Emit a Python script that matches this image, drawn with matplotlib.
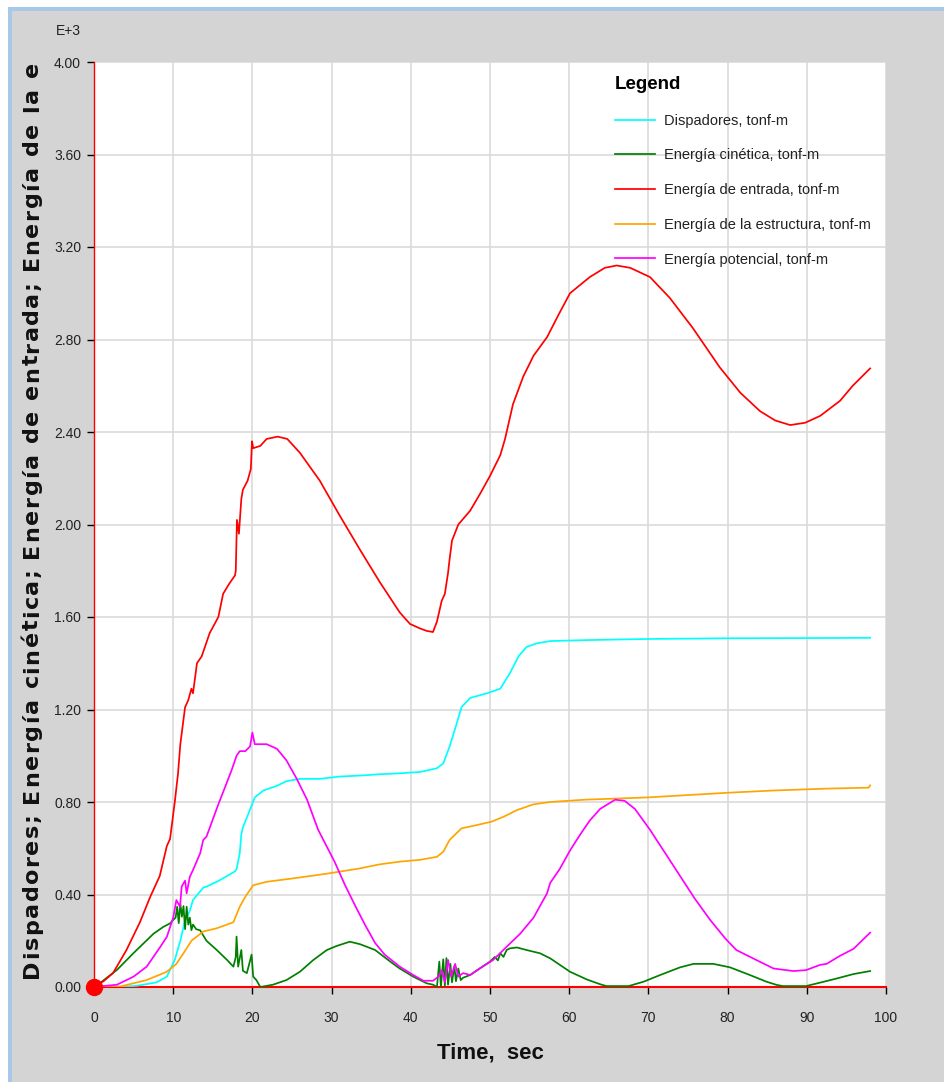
import matplotlib
matplotlib.use("Agg")
import matplotlib.pyplot as plt
from matplotlib.patches import Rectangle
from matplotlib.transforms import IdentityTransform
from matplotlib.font_manager import FontProperties

# ---------------------------------------------------------------- data (E+3 tonf-m)
x_ticks = [0, 10, 20, 30, 40, 50, 60, 70, 80, 90, 100]
y_ticks = [0.00, 0.40, 0.80, 1.20, 1.60, 2.00, 2.40, 2.80, 3.20, 3.60, 4.00]

series_names = ["Dispadores, tonf-m", "Energía cinética, tonf-m", "Energía de entrada, tonf-m",
                "Energía de la estructura, tonf-m", "Energía potencial, tonf-m"]
series_colors = ["#00ffff", "#008000", "#ff0000", "#ffa500", "#ff00ff"]

t_disp = [0, 3.0, 5.4, 7.9, 9.2, 10.2, 10.9, 11.5, 12.1, 12.5, 13.8, 14.2, 15.5, 16.3, 16.8,
          17.8, 18.0, 18.4, 18.6, 18.8, 19.5, 20.3, 21.4, 23.1, 24.3, 26.0, 28.5, 31.0, 34.0, 36.0,
          38.6, 41.2, 43.3, 44.1, 44.9, 45.8, 46.4, 47.5, 49.6, 51.3, 52.5, 53.6, 54.6, 55.9, 57.6,
          62.0, 70.0, 80.0, 91.7, 98.0]
e_disp = [0, 0, 0.005, 0.02, 0.045, 0.117, 0.20, 0.29, 0.33, 0.376, 0.43, 0.434, 0.455, 0.47, 0.48,
          0.50, 0.51, 0.578, 0.66, 0.69, 0.75, 0.82, 0.85, 0.87, 0.89, 0.90, 0.90, 0.91, 0.915, 0.92,
          0.924, 0.93, 0.946, 0.967, 1.04, 1.14, 1.21, 1.25, 1.27, 1.29, 1.356, 1.43, 1.47, 1.486, 1.496,
          1.50, 1.505, 1.508, 1.509, 1.51]

t_cin = [0, 0.75, 2.9, 5.0, 7.5, 8.75, 9.6, 10.0, 10.3, 10.5, 10.7, 10.9, 11.1, 11.3, 11.5,
         11.7, 11.9, 12.1, 12.3, 12.5, 12.9, 13.4, 14.2, 15.5, 16.8, 17.6, 17.9, 18.0, 18.2, 18.6,
         18.8, 19.3, 19.9, 20.1, 20.5, 21.0, 22.6, 24.3, 26.0, 27.7, 29.4, 30.6, 32.3, 33.6, 35.5,
         37.4, 38.6, 40.3, 42.0, 42.8, 43.3, 43.6, 43.8, 44.1, 44.3, 44.5, 44.7, 45.0, 45.2, 45.5,
         45.7, 46.0, 46.3, 46.6, 47.5, 48.7, 50.0, 50.6, 51.0, 51.3, 51.7, 52.1, 52.5, 53.4, 54.6,
         56.3, 57.6, 60.1, 62.2, 63.9, 64.7, 67.5, 69.4, 71.5, 74.0, 75.7, 78.2, 80.3, 82.8, 84.9,
         86.2, 87.0, 89.9, 91.7, 93.8, 95.9, 98.0]
e_cin = [0, 0.017, 0.074, 0.147, 0.23, 0.26, 0.275, 0.29, 0.30, 0.347, 0.276, 0.36, 0.304, 0.35, 0.25,
         0.347, 0.27, 0.30, 0.246, 0.27, 0.25, 0.245, 0.20, 0.16, 0.117, 0.088, 0.13, 0.218, 0.088, 0.16,
         0.07, 0.06, 0.14, 0.045, 0.03, 0.0, 0.01, 0.03, 0.066, 0.117, 0.16, 0.177, 0.196, 0.185, 0.16,
         0.11, 0.08, 0.045, 0.016, 0.01, 0.0, 0.11, 0.0, 0.12, 0.005, 0.125, 0.01, 0.10, 0.02, 0.09,
         0.025, 0.08, 0.03, 0.04, 0.052, 0.08, 0.11, 0.13, 0.115, 0.146, 0.13, 0.16, 0.167, 0.171, 0.16,
         0.146, 0.124, 0.066, 0.033, 0.012, 0.004, 0.004, 0.023, 0.052, 0.085, 0.10, 0.10, 0.085, 0.052, 0.023,
         0.009, 0.004, 0.004, 0.019, 0.037, 0.056, 0.069]

t_ent = [0, 1.2, 2.4, 4.1, 5.8, 7.1, 8.3, 9.2, 9.6, 10.2, 10.6, 10.9, 11.5, 11.9, 12.3, 12.5, 13.0,
         13.6, 14.6, 15.7, 16.3, 17.0, 17.8, 17.9, 18.05, 18.3, 18.6, 18.8, 19.4, 19.8, 19.95, 20.1,
         21.0, 21.8, 23.2, 24.4, 26.0, 28.5, 31.0, 33.6, 36.1, 38.6, 39.9, 41.2, 42.0, 42.8, 43.3,
         43.9, 44.3, 44.7, 44.9, 45.2, 46.0, 47.5, 48.7, 50.0, 51.3, 51.9, 52.9, 54.2, 55.5, 57.2,
         58.7, 60.1, 62.6, 64.5, 66.0, 67.7, 70.2, 72.7, 75.6, 79.0, 81.6, 84.1, 86.0, 87.9, 89.8,
         91.7, 94.2, 95.8, 98.0]
e_ent = [0, 0.025, 0.06, 0.16, 0.28, 0.39, 0.48, 0.61, 0.64, 0.80, 0.92, 1.05, 1.21, 1.24, 1.29, 1.27, 1.40,
         1.43, 1.53, 1.60, 1.70, 1.74, 1.78, 1.80, 2.02, 1.96, 2.11, 2.15, 2.19, 2.24, 2.36, 2.33,
         2.34, 2.37, 2.38, 2.37, 2.31, 2.19, 2.04, 1.89, 1.75, 1.62, 1.57, 1.55, 1.54, 1.535, 1.58,
         1.67, 1.70, 1.79, 1.85, 1.93, 2.00, 2.06, 2.13, 2.21, 2.30, 2.37, 2.52, 2.64, 2.73, 2.81,
         2.91, 3.00, 3.07, 3.11, 3.12, 3.11, 3.07, 2.98, 2.85, 2.68, 2.57, 2.49, 2.45, 2.43, 2.44,
         2.47, 2.535, 2.60, 2.675]

t_est = [0, 3.3, 6.65, 9.2, 10.4, 11.3, 12.3, 13.8, 15.5, 17.6, 18.4, 19.1, 20.1, 21.8, 25.2,
         29.4, 33.6, 36.0, 38.6, 41.2, 43.3, 44.1, 44.9, 46.4, 48.3, 50.2, 51.7, 53.4, 55.5, 57.6,
         62.0, 66.0, 70.0, 75.0, 80.0, 86.0, 92.7, 97.8, 98.0]
e_est = [0, 0.002, 0.03, 0.066, 0.10, 0.146, 0.20, 0.24, 0.254, 0.28, 0.347, 0.39, 0.44, 0.455, 0.47,
         0.49, 0.513, 0.53, 0.542, 0.55, 0.563, 0.585, 0.636, 0.686, 0.70, 0.715, 0.736, 0.765, 0.79, 0.80,
         0.81, 0.815, 0.82, 0.83, 0.84, 0.85, 0.858, 0.862, 0.872]

t_pot = [0, 2.9, 5.0, 6.65, 8.3, 9.2, 10.0, 10.4, 10.86, 11.07, 11.5, 11.7, 12.1, 12.5, 13.4,
         13.8, 14.2, 15.7, 16.5, 17.4, 18.0, 18.4, 19.1, 19.7, 20.0, 20.3, 21.8, 23.1, 24.3, 25.6,
         26.9, 28.3, 30.4, 31.7, 33.0, 34.2, 35.5, 36.7, 38.6, 40.3, 41.6, 42.8, 43.5, 43.9, 44.3,
         44.7, 45.1, 45.6, 46.0, 46.6, 47.5, 48.7, 50.4, 52.1, 53.8, 55.5, 57.2, 57.6, 58.8, 60.1,
         61.4, 62.6, 63.9, 65.8, 67.0, 68.3, 70.2, 72.1, 74.0, 75.9, 77.8, 79.7, 81.1, 83.2, 85.8,
         88.3, 89.9, 91.7, 92.5, 94.2, 95.9, 98.0]
e_pot = [0, 0.01, 0.045, 0.088, 0.17, 0.217, 0.30, 0.376, 0.347, 0.434, 0.46, 0.405, 0.477, 0.506, 0.578,
         0.636, 0.65, 0.79, 0.86, 0.94, 1.00, 1.02, 1.02, 1.04, 1.10, 1.05, 1.05, 1.03, 0.98, 0.90,
         0.81, 0.68, 0.54, 0.44, 0.35, 0.27, 0.19, 0.14, 0.088, 0.052, 0.027, 0.027, 0.045, 0.073, 0.02,
         0.117, 0.045, 0.10, 0.045, 0.06, 0.052, 0.08, 0.117, 0.174, 0.23, 0.30, 0.405, 0.45, 0.51, 0.59,
         0.66, 0.72, 0.77, 0.81, 0.805, 0.77, 0.68, 0.58, 0.48, 0.38, 0.29, 0.21, 0.16, 0.124, 0.08,
         0.069, 0.073, 0.096, 0.10, 0.135, 0.165, 0.235]

y_title = "Dispadores; Energía cinética; Energía de entrada; Energía de la e"
x_title = "Time,  sec"

# ---------------------------------------------------------------- figure
W, H, DPI = 944, 1082, 100
plt.rcParams["font.family"] = ["Liberation Sans", "DejaVu Sans"]

fig = plt.figure(figsize=(W / DPI, H / DPI), dpi=DPI, facecolor="white")
px = IdentityTransform()
fig.add_artist(Rectangle((8, 0), W - 8, H - 7, transform=px, facecolor="#a8c8e8",
                         edgecolor="none", zorder=-5))
fig.add_artist(Rectangle((12, 0), W - 12, H - 11, transform=px, facecolor="#d4d4d4",
                         edgecolor="none", zorder=-4))

L, R, T, B = 94, 886, 62, 987
ax = fig.add_axes([L / W, 1 - B / H, (R - L) / W, (B - T) / H])
ax.set_facecolor("white")
ax.set_xlim(0, 100)
ax.set_ylim(0, 4)
ax.set_xticks(x_ticks)
ax.set_xticklabels([str(v) for v in x_ticks])
ax.set_yticks(y_ticks)
ax.set_yticklabels([f"{v:.2f}" for v in y_ticks])
ax.grid(True, color="#dadada", lw=1.2)
ax.set_axisbelow(True)

for s in ("top", "right"):
    ax.spines[s].set_visible(False)
ax.spines["left"].set_color("red")
ax.spines["left"].set_linewidth(1.0)
ax.spines["bottom"].set_color("red")
ax.spines["bottom"].set_linewidth(1.5)
ax.tick_params(axis="both", direction="out", length=5, width=1, color="black",
               labelcolor="#222222", labelsize=10)
ax.tick_params(axis="x", pad=12)
ax.tick_params(axis="y", pad=4.3)

series = [(t_disp, e_disp), (t_cin, e_cin), (t_ent, e_ent), (t_est, e_est), (t_pot, e_pot)]
draw_order = [0, 3, 4, 1, 2]
handles = {}
for i in draw_order:
    t, e = series[i]
    (h,) = ax.plot(t, e, color=series_colors[i], lw=1.25, label=series_names[i], zorder=3 + i)
    handles[i] = h

ax.plot([0], [0], "o", color="red", ms=11.5, clip_on=False, zorder=20)

leg = ax.legend([handles[i] for i in range(5)], series_names, loc="upper left",
                bbox_to_anchor=((615 - L) / (R - L), (B - 76) / (B - T)),
                frameon=False, fontsize=10.5, title="Legend",
                title_fontproperties={"weight": "bold", "size": 13.5},
                alignment="left", borderpad=0, borderaxespad=0,
                handlelength=2.75, handletextpad=0.6, labelspacing=1.42)
for txt in leg.get_texts():
    txt.set_color("#222222")

# scale factor note above the value axis
fig.text(81, H - 35, "E+3", transform=px, ha="right", va="baseline", fontsize=10, color="#222222")

# time axis title
fig.text((L + R) / 2, H - 1053, x_title, transform=px, ha="center", va="center",
         fontsize=16, fontweight="bold", color="#111111")

# value axis title: vertical bold text with slightly widened letter spacing
fp = FontProperties(family="DejaVu Sans", weight="bold", size=16)
renderer = fig.canvas.get_renderer()
bar_w = renderer.get_text_width_height_descent("|", fp, ismath=False)[0]


def advance(s):
    return renderer.get_text_width_height_descent(s + "|", fp, ismath=False)[0] - bar_w


y0, y1 = H - 978, H - 62
n = len(y_title)
natural = advance(y_title[:-1]) + renderer.get_text_width_height_descent(y_title[-1], fp, ismath=False)[0]
track = max(0.0, (y1 - y0 - natural) / (n - 1))
for i, ch in enumerate(y_title):
    if ch == " ":
        continue
    pos = y0 + advance(y_title[:i]) + i * track
    fig.text(38, pos, ch, transform=px, rotation=90, rotation_mode="anchor",
             ha="left", va="baseline", fontproperties=fp, color="#111111")

fig.savefig("out.png", dpi=DPI, facecolor=fig.get_facecolor())
